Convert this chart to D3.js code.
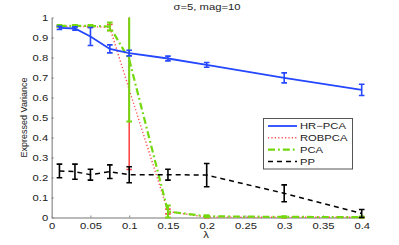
<!DOCTYPE html>
<html>
<head>
<meta charset="utf-8">
<script src="https://cdn.jsdelivr.net/npm/d3@7"></script>
<style>
  body { margin: 0; background: #fff; }
  text { font-family: "Liberation Sans", Arial, sans-serif; }
</style>
</head>
<body>
<div id="chart"></div>
<script>
const lambdas = [0.01, 0.03, 0.05, 0.075, 0.1, 0.15, 0.2, 0.3, 0.4];

const hrpca = [0.948, 0.945, 0.905, 0.843, 0.822, 0.795, 0.763, 0.698, 0.638];
const hrpcaErr = [0.008, 0.008, 0.045, 0.02, 0.014, 0.012, 0.012, 0.025, 0.028];

const robpca = [0.955, 0.955, 0.955, 0.95, 0.64, 0.03, 0.002, 0.001, 0.001];
const robpcaErr = [0.005, 0.005, 0.005, 0.015, 0.40, 0.012, 0.003, 0.002, 0.002];

const pca = [0.958, 0.958, 0.958, 0.955, 0.79, 0.03, 0.006, 0.003, 0.002];
const pcaErr = [0.005, 0.005, 0.005, 0.02, 0.31, 0.03, 0.005, 0.003, 0.003];

const pp = [0.233, 0.229, 0.214, 0.229, 0.214, 0.214, 0.212, 0.121, 0.02];
const ppErr = [0.034, 0.038, 0.027, 0.034, 0.04, 0.027, 0.058, 0.042, 0.02];

const xTicks = [0, 0.05, 0.1, 0.15, 0.2, 0.25, 0.3, 0.35, 0.4];
const yTicks = [0, 0.1, 0.2, 0.3, 0.4, 0.5, 0.6, 0.7, 0.8, 0.9, 1];

const width = 399, height = 245;
const stretch = 1.25;  // text in the picture is a bit wider than it is tall

const svg = d3.select('#chart').append('svg')
    .attr('width', width)
    .attr('height', height);

const x = d3.scaleLinear().domain([0, 0.4]).range([51.7, 361.7]);
const y = d3.scaleLinear().domain([0, 1]).range([217.5, 17.5]);

// axes, gray, ticks pointing inward
const axisColor = '#a3a3a3';

const xAxis = svg.append('g')
    .attr('transform', `translate(0,${y(0)})`)
    .call(d3.axisBottom(x).tickValues(xTicks).tickSizeInner(-2).tickSizeOuter(0)
        .tickFormat(d => d3.format('~g')(d)));

const yAxis = svg.append('g')
    .attr('transform', `translate(${x(0)},0)`)
    .call(d3.axisLeft(y).tickValues(yTicks).tickSizeInner(-2).tickSizeOuter(0)
        .tickFormat(d => d3.format('~g')(d)));

[xAxis, yAxis].forEach(a => {
    a.select('.domain').attr('stroke', axisColor).attr('stroke-width', 1.5);
    a.selectAll('.tick line').attr('stroke', '#666').attr('stroke-width', 0.8);
    a.selectAll('.tick text')
        .attr('fill', '#222')
        .style('font-size', '9px')
        .style('font-family', '"Liberation Sans", Arial, sans-serif');
});

xAxis.selectAll('.tick text')
    .attr('y', null).attr('dy', null)
    .attr('transform', `translate(0,11.5) scale(${stretch},1)`);

yAxis.selectAll('.tick text')
    .attr('x', null).attr('dy', null)
    .attr('transform', `translate(-3.5,3.2) scale(${stretch},1)`);

// title and labels
svg.append('text')
    .attr('text-anchor', 'middle')
    .attr('transform', `translate(207,10) scale(${stretch},1)`)
    .style('font-size', '9px')
    .attr('fill', '#222')
    .text('σ=5, mag=10');

svg.append('text')
    .attr('text-anchor', 'middle')
    .attr('transform', `translate(206,238) scale(${stretch},1)`)
    .style('font-size', '9px')
    .attr('fill', '#222')
    .text('λ');

svg.append('text')
    .attr('text-anchor', 'middle')
    .attr('transform', `translate(27,117.5) rotate(-90)`)
    .style('font-size', '9px')
    .attr('fill', '#222')
    .text('Expressed Variance');

// clip data marks to the y range
svg.append('clipPath').attr('id', 'plotclip')
    .append('rect')
    .attr('x', 0).attr('y', y(1)).attr('width', width).attr('height', y(0) - y(1) + 3);

const plot = svg.append('g').attr('clip-path', 'url(#plotclip)');

const series = [
    { name: 'ROBPCA', values: robpca, err: robpcaErr, color: '#ff4a4a', width: 1.4, dash: '1.2,2.2' },
    { name: 'PCA', values: pca, err: pcaErr, color: '#74d80f', width: 2.2, dash: '7,3,1.8,3' },
    { name: 'HR-PCA', values: hrpca, err: hrpcaErr, color: '#2447ff', width: 1.8, dash: null },
    { name: 'PP', values: pp, err: ppErr, color: '#000000', width: 1.5, dash: '5,4' }
];

const line = d3.line()
    .x((d, i) => x(lambdas[i]))
    .y(d => y(d));

const cap = 2.8;

series.forEach(s => {
    const g = plot.append('g');

    g.append('path')
        .datum(s.values)
        .attr('fill', 'none')
        .attr('stroke', s.color)
        .attr('stroke-width', s.width)
        .attr('stroke-dasharray', s.dash)
        .attr('d', line);

    const bars = g.selectAll('.bar')
        .data(s.values)
        .join('g')
        .attr('class', 'bar')
        .attr('stroke', s.color)
        .attr('stroke-width', s.name === 'PCA' ? 2 : 1.6)
        .attr('fill', 'none');

    bars.append('line')
        .attr('x1', (d, i) => x(lambdas[i]))
        .attr('x2', (d, i) => x(lambdas[i]))
        .attr('y1', (d, i) => y(d + s.err[i]))
        .attr('y2', (d, i) => y(d - s.err[i]));

    bars.append('line')
        .attr('x1', (d, i) => x(lambdas[i]) - cap)
        .attr('x2', (d, i) => x(lambdas[i]) + cap)
        .attr('y1', (d, i) => y(d + s.err[i]))
        .attr('y2', (d, i) => y(d + s.err[i]));

    bars.append('line')
        .attr('x1', (d, i) => x(lambdas[i]) - cap)
        .attr('x2', (d, i) => x(lambdas[i]) + cap)
        .attr('y1', (d, i) => y(d - s.err[i]))
        .attr('y2', (d, i) => y(d - s.err[i]));
});

// legend
const legendOrder = ['HR-PCA', 'ROBPCA', 'PCA', 'PP'];
const legend = svg.append('g');

legend.append('rect')
    .attr('x', 263.5).attr('y', 118.5)
    .attr('width', 89).attr('height', 50.5)
    .attr('fill', '#fff')
    .attr('stroke', '#555')
    .attr('stroke-width', 1);

legendOrder.forEach((name, i) => {
    const s = series.find(d => d.name === name);
    const ly = 126 + i * 11.8;
    legend.append('line')
        .attr('x1', 268).attr('x2', 297)
        .attr('y1', ly).attr('y2', ly)
        .attr('stroke', s.color)
        .attr('stroke-width', s.width)
        .attr('stroke-dasharray', s.dash);
    legend.append('text')
        .attr('transform', `translate(300,${ly + 3.3}) scale(${stretch},1)`)
        .style('font-size', '9px')
        .attr('fill', '#222')
        .text(name.replace('-', '\u2212'));
});
</script>
</body>
</html>
